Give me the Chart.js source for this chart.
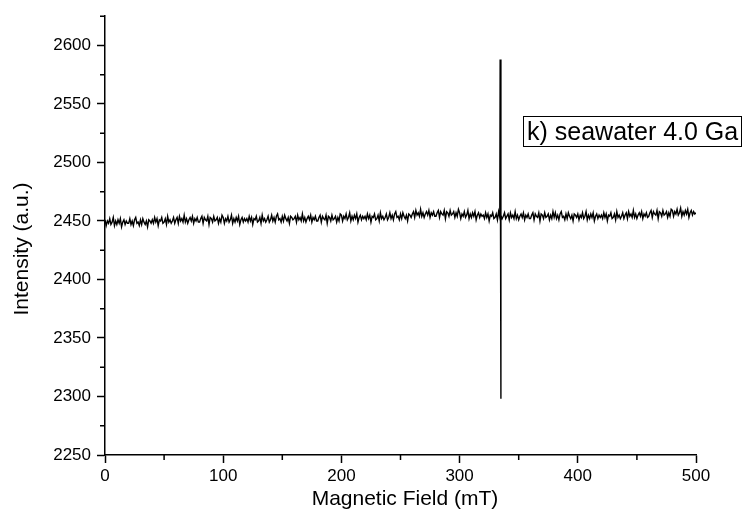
<!DOCTYPE html>
<html>
<head>
<meta charset="utf-8">
<script src="https://cdn.jsdelivr.net/npm/chart.js@4.4.1/dist/chart.umd.min.js"></script>
<style>
  html, body { margin: 0; padding: 0; background: #fff; }
  #wrap { width: 744px; height: 511px; }
</style>
</head>
<body>
<div id="wrap"><canvas id="epr" width="744" height="511"></canvas></div>
<script>
// EPR spectrum baseline, sampled every 1 mT from 0 to 500 mT (one row = 20 mT)
const intensity = [
  2451,2446,2450,2448,2452,2447,2449,2453,2446,2450,2447,2451,2448,2452,2445,2449,2451,2447,2450,2448,
  2448,2452,2447,2450,2446,2451,2453,2448,2449,2446,2451,2447,2452,2449,2447,2450,2445,2451,2450,2448,
  2451,2448,2453,2449,2452,2446,2451,2450,2453,2448,2449,2452,2447,2454,2449,2451,2448,2450,2453,2448,
  2451,2453,2448,2454,2450,2452,2449,2455,2449,2452,2448,2451,2453,2450,2454,2448,2452,2450,2453,2449,
  2449,2452,2454,2448,2453,2451,2450,2454,2447,2453,2452,2449,2454,2450,2451,2453,2448,2452,2449,2455,
  2453,2448,2452,2450,2454,2449,2451,2455,2448,2452,2449,2453,2450,2454,2447,2451,2453,2449,2452,2450,
  2452,2449,2454,2450,2453,2447,2452,2451,2454,2449,2450,2453,2448,2455,2450,2452,2449,2451,2454,2449,
  2451,2455,2450,2453,2449,2454,2456,2451,2452,2449,2454,2450,2455,2452,2450,2453,2448,2454,2453,2451,
  2452,2454,2449,2455,2451,2453,2450,2456,2450,2453,2449,2452,2454,2451,2455,2449,2453,2451,2454,2450,
  2450,2453,2455,2449,2454,2452,2451,2455,2448,2454,2453,2450,2455,2451,2452,2454,2449,2453,2450,2456,
  2455,2450,2454,2452,2456,2451,2453,2457,2450,2454,2451,2455,2452,2456,2449,2453,2455,2451,2454,2452,
  2454,2451,2456,2452,2455,2449,2454,2453,2456,2451,2452,2455,2450,2457,2452,2454,2451,2453,2456,2451,
  2453,2457,2452,2455,2451,2456,2458,2453,2454,2451,2456,2452,2457,2454,2452,2455,2450,2456,2455,2453,
  2456,2458,2453,2459,2455,2457,2454,2460,2454,2457,2453,2456,2458,2455,2459,2453,2457,2455,2458,2454,
  2454,2457,2459,2453,2458,2456,2455,2459,2452,2458,2457,2454,2459,2455,2456,2458,2453,2457,2454,2460,
  2457,2452,2456,2454,2458,2453,2455,2459,2452,2456,2453,2457,2454,2458,2451,2455,2457,2453,2456,2454,
  2455,2452,2457,2453,2456,2450,2455,2454,2457,2452,2453,2456,2451,2458,2453,2455,2452,2454,2457,2452,
  2454,2456,2451,2457,2453,2455,2452,2458,2452,2455,2451,2454,2456,2453,2457,2451,2455,2453,2456,2452,
  2452,2455,2457,2451,2456,2454,2453,2457,2450,2456,2455,2452,2457,2453,2454,2456,2451,2455,2452,2458,
  2453,2457,2452,2455,2451,2456,2458,2453,2454,2451,2456,2452,2457,2454,2452,2455,2450,2456,2455,2453,
  2456,2451,2455,2453,2457,2452,2454,2458,2451,2455,2452,2456,2453,2457,2450,2454,2456,2452,2455,2453,
  2455,2452,2457,2453,2456,2450,2455,2454,2457,2452,2453,2456,2451,2458,2453,2455,2452,2454,2457,2452,
  2455,2457,2452,2458,2454,2456,2453,2459,2453,2456,2452,2455,2457,2454,2458,2452,2456,2454,2457,2453,
  2454,2457,2459,2453,2458,2456,2455,2459,2452,2458,2457,2454,2459,2455,2456,2458,2453,2457,2454,2460,
  2459,2454,2458,2456,2460,2455,2457,2461,2454,2458,2455,2459,2456,2460,2453,2457,2459,2455,2458,2456,
  2457
];
const fieldMT = intensity.map((_, i) => i);

// the sharp resonance line near 334 mT
const spikeField = [334.3, 334.9];
const spikeIntensity = [2588, 2298];

const xTicks = [0, 100, 200, 300, 400, 500];
const yTicks = [2250, 2300, 2350, 2400, 2450, 2500, 2550, 2600];
const sampleLabel = 'k) seawater 4.0 Ga';

const points = fieldMT.map((f, i) => ({ x: f, y: intensity[i] }))
  .concat(spikeField.map((f, i) => ({ x: f, y: spikeIntensity[i] })))
  .sort((a, b) => a.x - b.x);

Chart.defaults.font.family = "'Liberation Sans', Arial, sans-serif";
Chart.defaults.color = '#000';

// minor ticks, axis titles and the sample label box
const extras = {
  id: 'extras',
  afterDraw(chart) {
    const { ctx, scales: { x, y } } = chart;
    ctx.save();
    ctx.strokeStyle = '#000';
    ctx.lineWidth = 1.5;
    ctx.beginPath();
    for (let v = 50; v < 500; v += 100) {
      const px = x.getPixelForValue(v);
      ctx.moveTo(px, y.bottom);
      ctx.lineTo(px, y.bottom + 5);
    }
    for (let v = 2275; v <= 2625; v += 50) {
      const py = y.getPixelForValue(v);
      ctx.moveTo(x.left, py);
      ctx.lineTo(x.left - 5, py);
    }
    ctx.stroke();

    ctx.fillStyle = '#000';
    ctx.font = "21px 'Liberation Sans', Arial, sans-serif";
    ctx.textAlign = 'center';
    ctx.textBaseline = 'alphabetic';
    ctx.fillText('Magnetic Field (mT)', 405, 505);

    ctx.save();
    ctx.translate(28, 249);
    ctx.rotate(-Math.PI / 2);
    ctx.fillText('Intensity (a.u.)', 0, 0);
    ctx.restore();

    ctx.lineWidth = 1;
    ctx.strokeRect(523.5, 116.5, 218, 30);
    ctx.font = "25px 'Liberation Sans', Arial, sans-serif";
    ctx.textAlign = 'left';
    ctx.fillText(sampleLabel, 527, 140);
    ctx.restore();
  }
};

new Chart(document.getElementById('epr'), {
  type: 'line',
  data: {
    datasets: [{
      data: points,
      borderColor: '#000',
      borderWidth: 1.4,
      pointRadius: 0,
      tension: 0,
      fill: false
    }]
  },
  options: {
    responsive: false,
    animation: false,
    layout: { padding: { top: 16, right: 48, left: 0, bottom: 0 } },
    plugins: { legend: { display: false }, tooltip: { enabled: false } },
    scales: {
      x: {
        type: 'linear',
        min: 0,
        max: 500,
        afterFit: s => { s.height = 56; },
        afterBuildTicks: s => { s.ticks = xTicks.map(v => ({ value: v })); },
        grid: { drawOnChartArea: false, tickLength: 8, tickWidth: 1.5, tickColor: '#000' },
        border: { display: true, color: '#000', width: 1.5 },
        ticks: { font: { size: 17 }, padding: 3, maxRotation: 0, callback: v => String(v) }
      },
      y: {
        type: 'linear',
        min: 2250,
        max: 2625,
        afterFit: s => { s.width = 105; },
        afterBuildTicks: s => { s.ticks = yTicks.map(v => ({ value: v })); },
        grid: { drawOnChartArea: false, tickLength: 8, tickWidth: 1.5, tickColor: '#000' },
        border: { display: true, color: '#000', width: 1.5 },
        ticks: { font: { size: 17 }, padding: 6, callback: v => String(v) }
      }
    }
  },
  plugins: [extras]
});
</script>
</body>
</html>
